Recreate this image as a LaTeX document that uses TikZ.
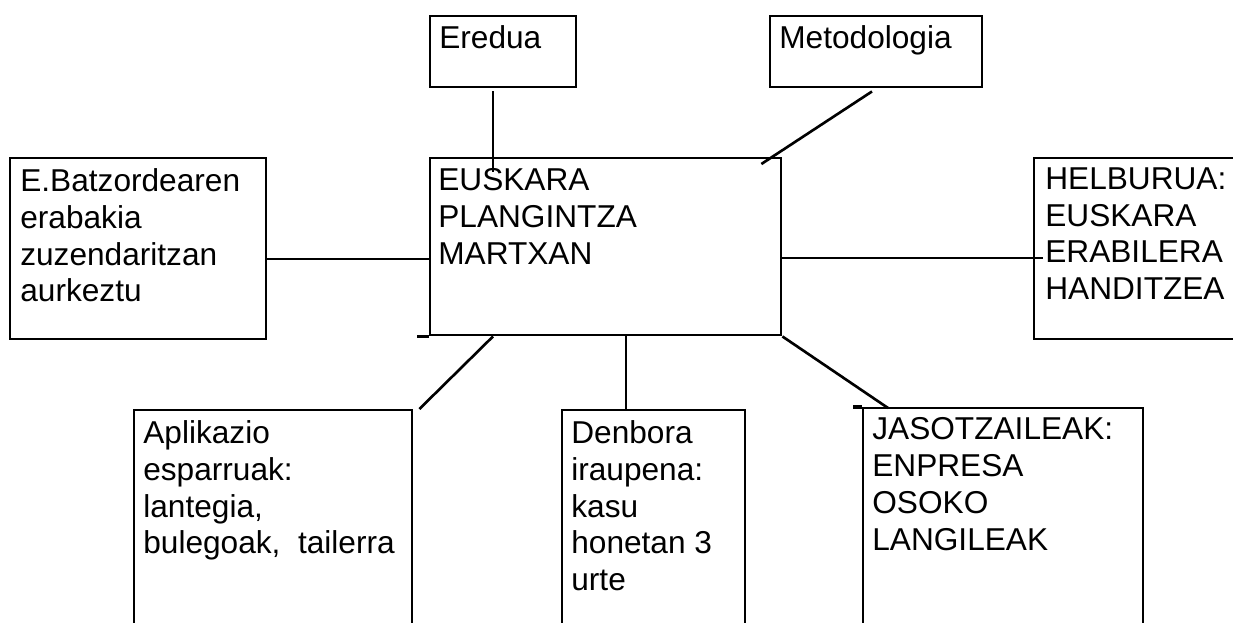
\documentclass[tikz,border=0pt]{standalone}
\usepackage{fontspec}
\setmainfont{Liberation Sans}
\usetikzlibrary{calc}

\tikzset{
  kutxa/.style={draw, line width=1.4pt, anchor=north west, inner sep=0pt},
  testua/.style={anchor=north west, inner sep=0pt, align=left, font=\fontsize{18}{21}\selectfont},
  lotura/.style={line width=1.5pt}
}

\begin{document}
\begin{tikzpicture}[x=0.02cm, y=-0.02cm]
  \fill[white] (0,0) rectangle (1233,622);
  \clip (0,0) rectangle (1233,622);

  % goiko kutxak
  \node[kutxa, minimum width=2.92cm, minimum height=1.42cm] (eredua) at (429,15) {};
  \node[testua] (ereduaT) at ($(eredua.north west)+(10,10)$) {Eredua};
  \node[kutxa, minimum width=4.24cm, minimum height=1.42cm] (metod) at (769,15) {};
  \node[testua] (metodT) at ($(metod.north west)+(10,10)$) {Metodologia};

  % erdiko kutxa eta alboetakoak
  \node[kutxa, minimum width=7.02cm, minimum height=3.54cm] (erdia) at (429,157) {};
  \node[testua] (erdiaT) at ($(erdia.north west)+(9,11)$) {EUSKARA\\PLANGINTZA\\MARTXAN};
  \draw[line width=1.4pt] (erdia.south west) -- ++(-12,0);

  \node[kutxa, minimum width=5.12cm, minimum height=3.62cm] (batz) at (9,157) {};
  \node[testua] (batzT) at ($(batz.north west)+(11,11)$) {E.Batzordearen\\erabakia\\zuzendaritzan\\aurkeztu};

  \node[kutxa, minimum width=4.6cm, minimum height=3.62cm] (helb) at (1033,157) {};
  \node[testua] (helbT) at ($(helb.north west)+(12,10)$) {HELBURUA:\\EUSKARA\\ERABILERA\\HANDITZEA};

  % beheko kutxak
  \node[kutxa, minimum width=5.56cm, minimum height=5cm] (aplik) at (133,409) {};
  \node[testua] (aplikT) at ($(aplik.north west)+(10,11)$) {Aplikazio\\esparruak:\\lantegia,\\bulegoak,\ \ tailerra};

  \node[kutxa, minimum width=3.66cm, minimum height=5cm] (denb) at (561,409) {};
  \node[testua] (denbT) at ($(denb.north west)+(10,11)$) {Denbora\\iraupena:\\kasu\\honetan 3\\urte};

  \node[kutxa, minimum width=5.6cm, minimum height=5cm] (jaso) at (862,407) {};
  \node[testua] (jasoT) at ($(jaso.north west)+(10,10)$) {JASOTZAILEAK:\\ENPRESA\\OSOKO\\LANGILEAK};
  \draw[line width=1.8pt] (jaso.north west) -- ++(-9,0);

  % loturak
  \draw[lotura] ($(eredua.south west)+(64,3)$) -- ($(erdia.north west)+(64,15)$);
  \draw[lotura] ($(metod.south west)+(103,3)$) -- ($(erdia.north east)+(-21,7)$);
  \draw[lotura] ($(batz.north east)+(0,102)$) -- ($(erdia.north west)+(2,102)$);
  \draw[lotura] ($(erdia.north east)+(-2,101)$) -- ($(helb.north west)+(10,101)$);
  \draw[lotura] ($(erdia.south west)+(64,0)$) -- ($(aplik.north east)+(6,0)$);
  \draw[lotura] ($(erdia.south west)+(197,0)$) -- ($(denb.north west)+(65,0)$);
  \draw[lotura] (erdia.south east) -- ($(jaso.north west)+(26,1)$);
\end{tikzpicture}
\end{document}
